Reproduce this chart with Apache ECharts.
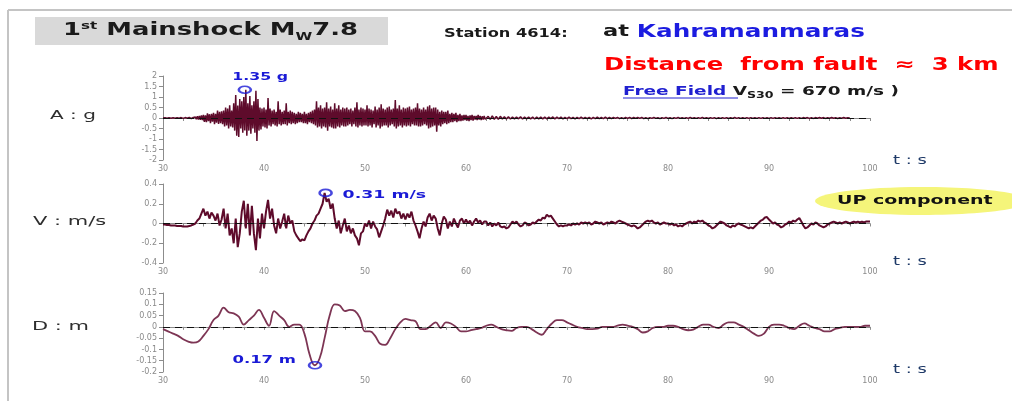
<!DOCTYPE html>
<html><head><meta charset="utf-8">
<script src="https://cdn.jsdelivr.net/npm/echarts@6/dist/echarts.min.js"></script>
<style>html,body{margin:0;padding:0;background:#fff}#c{width:1012px;height:401px}</style>
</head><body><div id="c"></div>
<script>
// time axis
const tStart = 30;
const xTicks = [30, 40, 50, 60, 70, 80, 90, 100];
const accTicks = [-2, -1.5, -1, -0.5, 0, 0.5, 1, 1.5, 2];
const velTicks = [-0.4, -0.2, 0, 0.2, 0.4];
const disTicks = [-0.2, -0.15, -0.1, -0.05, 0, 0.05, 0.1, 0.15];

// Acceleration (g): pre-event 30.0-32.8 s every 0.2 s
const accPreStart = 30.0, accPreStep = 0.2;
const accPre = [0,0.01,-0.01,0.01,-0.01, 0.01,-0.01,0.01,-0.01,0.02, -0.02,0.02,-0.01,0.03,-0.03];
// strong motion 33.0-61.9 s every 0.1 s
const accMainStart = 33.0, accMainStep = 0.1;
const accMain = [
 0.03,-0.04,0.05,-0.06,0.08,-0.07,0.1,-0.09,0.12,-0.1,
 0.15,-0.18,0.12,-0.2,0.22,-0.15,0.18,-0.25,0.2,-0.17,
 0.25,-0.3,0.2,-0.22,0.35,-0.28,0.3,-0.25,0.32,-0.3,
 0.35,-0.4,0.5,-0.35,0.45,-0.5,0.6,-0.4,0.35,-0.45,
 0.7,-0.6,1.1,-0.85,0.6,-0.9,0.9,-0.5,0.8,-0.7,
 1.0,-0.6,1.35,-0.85,0.7,-0.6,1.05,-0.75,0.6,-0.5,
 0.8,-0.7,1.3,-1.1,0.9,-0.6,0.5,-0.55,0.45,-0.4,
 0.5,-0.45,0.4,-0.5,0.95,-0.35,0.45,-0.4,0.35,-0.3,
 0.4,-0.35,0.3,-0.4,0.8,-0.3,0.4,-0.35,0.3,-0.3,
 0.35,-0.3,0.7,-0.35,0.3,-0.25,0.35,-0.3,0.3,-0.25,
 0.25,-0.3,0.2,-0.25,0.3,-0.2,0.25,-0.2,0.2,-0.25,
 0.3,-0.25,0.2,-0.3,0.25,-0.2,0.3,-0.25,0.35,-0.3,
 0.4,-0.35,0.8,-0.45,0.5,-0.4,0.6,-0.5,0.45,-0.4,
 0.5,-0.45,0.75,-0.6,0.45,-0.4,0.55,-0.45,0.4,-0.5,
 0.7,-0.5,0.45,-0.4,0.6,-0.45,0.4,-0.35,0.5,-0.4,
 0.45,-0.4,0.5,-0.35,0.4,-0.3,0.45,-0.4,0.35,-0.3,
 0.5,-0.4,0.75,-0.45,0.4,-0.35,0.5,-0.4,0.45,-0.35,
 0.4,-0.35,0.6,-0.4,0.45,-0.35,0.4,-0.45,0.35,-0.3,
 0.55,-0.45,0.4,-0.35,0.5,-0.5,0.65,-0.4,0.45,-0.35,
 0.4,-0.35,0.5,-0.45,0.55,-0.35,0.4,-0.3,0.45,-0.4,
 0.85,-0.5,0.45,-0.4,0.6,-0.35,0.4,-0.45,0.5,-0.35,
 0.45,-0.4,0.5,-0.35,0.55,-0.4,0.4,-0.3,0.45,-0.35,
 0.5,-0.35,0.7,-0.4,0.45,-0.4,0.4,-0.35,0.5,-0.3,
 0.4,-0.35,0.55,-0.5,0.6,-0.45,0.45,-0.4,0.5,-0.35,
 0.5,-0.65,0.4,-0.35,0.3,-0.4,0.35,-0.3,0.3,-0.25,
 0.3,-0.3,0.35,-0.25,0.2,-0.2,0.25,-0.2,0.2,-0.15,
 0.25,-0.2,0.15,-0.15,0.2,-0.15,0.12,-0.12,0.15,-0.1,
 0.15,-0.12,0.1,-0.15,0.12,-0.1,0.15,-0.12,0.1,-0.08,
 0.1,-0.1,0.15,-0.08,0.1,-0.1,0.08,-0.07,0.1,-0.06
];
// coda 62.0-100.0 s every 0.2 s
const accCodaStart = 62.0, accCodaStep = 0.2;
const accCoda = [
 -0.1,0.08,-0.07,0.1,-0.06,
 0.07,-0.06,0.08,-0.05,0.06, -0.05,0.06,-0.05,0.05,-0.04, 0.05,-0.04,0.06,-0.05,0.04,
 -0.04,0.05,-0.04,0.04,-0.05, 0.04,-0.04,0.05,-0.04,0.04, -0.04,0.04,-0.03,0.05,-0.04,
 0.04,-0.03,0.04,-0.04,0.03, -0.03,0.04,-0.03,0.03,-0.04, 0.03,-0.03,0.04,-0.03,0.03,
 -0.03,0.03,-0.04,0.03,-0.03, 0.04,-0.03,0.03,-0.03,0.04, -0.03,0.03,-0.03,0.03,-0.02,
 0.03,-0.03,0.02,-0.03,0.03, -0.02,0.03,-0.03,0.03,-0.02, 0.03,-0.02,0.03,-0.03,0.02,
 -0.03,0.02,-0.02,0.03,-0.02, 0.02,-0.03,0.02,-0.02,0.03, -0.02,0.02,-0.03,0.02,-0.02,
 0.03,-0.02,0.02,-0.02,0.02, -0.02,0.03,-0.02,0.02,-0.02, 0.02,-0.02,0.03,-0.02,0.02,
 -0.02,0.02,-0.02,0.02,-0.03, 0.02,-0.02,0.02,-0.02,0.02, -0.02,0.02,-0.02,0.03,-0.02,
 0.02,-0.02,0.02,-0.02,0.02, -0.02,0.02,-0.02,0.02,-0.02, 0.02,-0.02,0.02,-0.02,0.02,
 -0.02,0.02,-0.02,0.02,-0.02, 0.02,-0.02,0.02,-0.02,0.02, -0.02,0.02,-0.02,0.02,-0.02,
 0.02,-0.02,0.02,-0.01,0.02, -0.02,0.01,-0.02,0.02,-0.01, 0.02,-0.01,0.02,-0.02,0.01,
 -0.01,0.02,-0.01,0.01,-0.02, 0.01,-0.01,0.02,-0.01,0.01, 0
];

// Velocity (m/s), sampled every 0.2 s from 30 s
const velStep = 0.2;
const velValues = [
 -0.01,-0.01,-0.015,-0.015,-0.02, -0.02,-0.02,-0.025,-0.025,-0.025, -0.03,-0.03,-0.03,-0.025,-0.02,
 -0.01,0,0.03,0.05,0.1, 0.15,0.08,0.12,0.05,0.11, 0.08,0.03,0.1,-0.02,0.04,
 0.15,-0.05,0.1,-0.12,-0.05, -0.2,0.05,-0.24,-0.1,0.12, 0.23,-0.05,0.2,-0.12,0.18,
 -0.1,-0.27,0.05,-0.15,0.1, -0.05,0.12,0.24,0.05,0.15, -0.02,-0.1,0.05,-0.05,0.02,
 0.1,-0.05,0.08,0,0.03, -0.08,-0.12,-0.15,-0.18,-0.16, -0.17,-0.12,-0.08,-0.05,0,
 0.03,0.08,0.1,0.15,0.2, 0.31,0.22,0.25,0.15,0.2, 0.05,-0.05,0.03,-0.1,-0.02,
 0.05,-0.08,-0.02,-0.1,-0.05, -0.12,-0.15,-0.22,-0.1,-0.08, 0,-0.03,0.03,-0.05,0.02,
 -0.03,-0.06,-0.14,-0.08,-0.02, 0.05,0.14,0.08,0.13,0.06, 0.15,0.1,0.12,0.05,0.1,
 0.04,0.1,0.06,0.12,0.03, -0.02,-0.08,-0.15,-0.05,0.02, -0.03,0.06,0.1,0.03,0.08,
 0.05,-0.05,-0.12,0,0.07, 0.04,-0.05,0.02,-0.03,0.05, 0,-0.04,0.03,0.05,0,
 0.04,0,0.03,-0.02,0.02, 0.05,0.01,0.03,-0.01,0.02, 0.02,-0.02,0.01,-0.03,0,
 -0.02,0.01,-0.03,-0.04,-0.03, -0.05,-0.04,-0.01,0.02,0, 0.02,-0.01,-0.03,-0.02,0.01,
 0,-0.02,-0.01,0.01,0, 0.02,0.04,0.03,0.06,0.05, 0.09,0.07,0.08,0.05,0.02,
 -0.01,-0.03,-0.02,-0.03,-0.02, -0.02,-0.01,-0.02,0,-0.01, 0,-0.01,0.01,0,0.01,
 0,0.01,-0.01,0,0.02, 0.01,0,0.01,-0.01,0, 0.01,0,0.02,0.01,0,
 0.02,0.03,0.02,0.01,0, -0.01,-0.02,-0.03,-0.02,-0.03, -0.05,-0.04,-0.02,0,0.02,
 0.03,0.02,0.03,0.01,0, 0.01,-0.01,0,0.01,0, 0,-0.01,0,-0.02,-0.01,
 -0.03,-0.02,-0.03,-0.01,0, 0.01,0.02,0,0.02,0.01, 0.03,0.02,0.03,0.01,0,
 -0.02,-0.03,-0.05,-0.04,-0.02, 0,0.02,0.01,0,-0.02, -0.03,-0.04,-0.02,-0.03,-0.01,
 0,-0.01,-0.02,-0.03,-0.04, -0.05,-0.04,-0.05,-0.03,-0.01, 0.01,0.03,0.04,0.06,0.065,
 0.04,0.02,0,0.01,-0.01, -0.02,-0.04,-0.03,-0.01,0, 0.02,0.01,0.03,0.02,0.04,
 0.055,0.02,-0.02,-0.05,-0.04, -0.02,0,-0.01,0.01,0, -0.02,-0.03,-0.04,-0.03,-0.01,
 0,0.01,0.02,0.01,0, 0.01,0,0.01,0.02,0.01, 0,0.01,0.02,0.01,0.02,
 0.01,0.02,0.01,0.02,0.02, 0.02
];

// Displacement (m), sampled every 0.5 s from 30 s
const disStep = 0.5;
const disValues = [
 -0.01,-0.02, -0.03,-0.04, -0.055,-0.065, -0.07,-0.065, -0.04,-0.01,
 0.03,0.05, 0.085,0.065, 0.06,0.045, 0.01,0.03, 0.05,0.075,
 0.04,0.005, 0.07,0.05, 0.03,0, 0.01,0.01, -0.03,-0.12,
 -0.17,-0.14, -0.05,0.05, 0.1,0.095, 0.07,0.075, 0.07,0.04,
 -0.02,-0.02, -0.04,-0.075, -0.08,-0.05, -0.01,0.02, 0.035,0.03,
 0.025,-0.01, -0.01,0.005, 0.02,-0.005, 0.02,0.015, 0,-0.02,
 -0.02,-0.015, -0.01,-0.005, 0.005,0.01, 0,-0.01, -0.015,-0.018,
 -0.005,0, 0,-0.01, -0.025,-0.035, -0.01,0.015, 0.03,0.03,
 0.02,0.01, 0,-0.005, -0.01,-0.01, -0.008,0, 0,0,
 0.005,0.01, 0.005,0, -0.01,-0.025, -0.02,-0.005, 0,0,
 0.005,0.005, 0,-0.01, -0.015,-0.012, 0,0.01, 0.01,0,
 -0.005,0.01, 0.02,0.02, 0.01,0, -0.015,-0.03, -0.04,-0.03,
 0,0.01, 0.01,0.005, -0.005,-0.01, 0.005,0.015, 0.005,-0.005,
 -0.01,-0.02, -0.02,-0.01, -0.005,0, 0,0, 0,0.005, 0.005
];

// Peak annotations: time (s), value, unit
const accPeak = [38.1, 1.35, 'g'];
const velPeak = [46.1, 0.31, 'm/s'];
const disPeak = [45.05, -0.17, 'm'];

function pairs(vals, step, start) {
  const s0 = start === undefined ? tStart : start;
  return vals.map((v, i) => [+(s0 + i * step).toFixed(2), v]);
}
const accData = pairs(accPre, accPreStep, accPreStart)
  .concat(pairs(accMain, accMainStep, accMainStart))
  .concat(pairs(accCoda, accCodaStep, accCodaStart));

const chart = echarts.init(document.getElementById('c'), null, {renderer: 'canvas'});
const grids = [
  {left: 163, right: 142, top: 76, height: 84},
  {left: 163, right: 142, top: 184, height: 79},
  {left: 163, right: 142, top: 293, height: 79}
];
const yTicks = [accTicks, velTicks, disTicks];
const lbl = {color: '#8a8a8a', fontSize: 8, fontFamily: 'DejaVu Sans'};

const xAxis = grids.map((g, i) => ({
  type: 'value', gridIndex: i, min: xTicks[0], max: xTicks[xTicks.length - 1], interval: 10,
  axisLine: {lineStyle: {color: '#8c8c8c', width: 1}},
  axisTick: {show: true, length: 3, lineStyle: {color: '#8c8c8c'}},
  minorTick: {show: true, splitNumber: 5, length: 3, lineStyle: {color: '#8c8c8c'}},
  splitLine: {show: false},
  axisLabel: Object.assign({margin: 5}, lbl)
}));
const yAxis = grids.map((g, i) => {
  const t = yTicks[i];
  return {
    type: 'value', gridIndex: i, min: t[0], max: t[t.length - 1], interval: t[1] - t[0],
    axisLine: {show: true, lineStyle: {color: '#8c8c8c', width: 1}},
    axisTick: {show: true, length: 4, lineStyle: {color: '#8c8c8c'}},
    splitLine: {show: false},
    axisLabel: Object.assign({margin: 6, formatter: v => String(+v.toFixed(2))}, lbl)
  };
});

const zeroLine = {
  silent: true, symbol: 'none', label: {show: false},
  lineStyle: {color: '#111', type: [7, 5], width: 1},
  data: [{yAxis: 0}]
};

function peakSeries(idx, p) {
  return {
    type: 'scatter', xAxisIndex: idx, yAxisIndex: idx, z: 5,
    data: [[p[0], p[1]]], symbol: 'circle', symbolSize: [12, 7],
    itemStyle: {color: 'rgba(255,255,255,0)', borderColor: '#1a1ad6', borderWidth: 2}
  };
}

const series = [
  {type: 'line', xAxisIndex: 0, yAxisIndex: 0, data: accData, showSymbol: false,
   lineStyle: {color: '#5e0b2b', width: 1.5}, markLine: zeroLine, z: 3},
  {type: 'line', xAxisIndex: 1, yAxisIndex: 1, data: pairs(velValues, velStep), showSymbol: false,
   lineStyle: {color: '#5e0b2b', width: 2}, markLine: zeroLine, z: 3},
  {type: 'line', xAxisIndex: 2, yAxisIndex: 2, data: pairs(disValues, disStep), showSymbol: false, smooth: 0.4,
   lineStyle: {color: '#7d3554', width: 1.8}, markLine: zeroLine, z: 3},
  peakSeries(0, accPeak),
  peakSeries(1, velPeak),
  peakSeries(2, disPeak)
];

chart.setOption({
  animation: false,
  backgroundColor: '#ffffff',
  grid: grids,
  xAxis: xAxis,
  yAxis: yAxis,
  series: series
});

const F = 'DejaVu Sans';
// text helper: x,y = anchor (left/right edge, vertical middle), sx = horizontal stretch
function txt(x, y, sx, style, align) {
  return {type: 'text', x: x, y: y, scaleX: sx, z: 10,
    style: Object.assign({x: 0, y: 0, align: align || 'left', verticalAlign: 'middle'}, style)};
}
const pA = chart.convertToPixel({gridIndex: 0}, [accPeak[0], accPeak[1]]);
const pV = chart.convertToPixel({gridIndex: 1}, [velPeak[0], velPeak[1]]);
const pD = chart.convertToPixel({gridIndex: 2}, [disPeak[0], disPeak[1]]);
const annFont = 'bold 10.5px "DejaVu Sans"';
const blue = '#1a1ad6';

const graphic = [
  {type: 'line', shape: {x1: 8, y1: 10, x2: 1012, y2: 10}, style: {stroke: '#c4c4c4', lineWidth: 2}},
  {type: 'line', shape: {x1: 8, y1: 10, x2: 8, y2: 401}, style: {stroke: '#c4c4c4', lineWidth: 2}},
  {type: 'rect', shape: {x: 35, y: 17, width: 353, height: 28}, style: {fill: '#d9d9d9'}},
  txt(63, 31, 1.52, {
    rich: {
      b: {fontSize: 17, fontWeight: 'bold', fontFamily: F, fill: '#1a1a1a', lineHeight: 24, verticalAlign: 'middle'},
      sup: {fontSize: 10, fontWeight: 'bold', fontFamily: F, fill: '#1a1a1a', lineHeight: 24, verticalAlign: 'top', padding: [2, 0, 0, 0]},
      sub: {fontSize: 10, fontWeight: 'bold', fontFamily: F, fill: '#1a1a1a', lineHeight: 24, verticalAlign: 'bottom', padding: [0, 0, 1, 0]}
    },
    text: '{b|1}{sup|st}{b| Mainshock M}{sub|W}{b|7.8}'
  }),
  txt(444, 34, 1.41, {text: 'Station 4614:', font: 'bold 11.5px "DejaVu Sans"', fill: '#1a1a1a'}),
  txt(603, 32, 1.41, {
    rich: {
      a: {fontSize: 16, fontWeight: 'bold', fontFamily: F, fill: '#1a1a1a'},
      k: {fontSize: 17.5, fontWeight: 'bold', fontFamily: F, fill: '#1c1ce0'}
    },
    text: '{a|at }{k|Kahramanmaras}'
  }),
  txt(604, 66, 1.43, {text: 'Distance  from fault  \u2248  3 km', font: 'bold 17px "DejaVu Sans"', fill: '#ff0000'}),
  txt(623, 92, 1.48, {
    rich: {
      f: {fontSize: 12.5, fontWeight: 'bold', fontFamily: F, fill: '#2020d0', lineHeight: 16},
      v: {fontSize: 12.5, fontWeight: 'bold', fontFamily: F, fill: '#1a1a1a', lineHeight: 16},
      s: {fontSize: 8.5, fontWeight: 'bold', fontFamily: F, fill: '#1a1a1a', lineHeight: 16, verticalAlign: 'bottom'}
    },
    text: '{f|Free Field }{v|V}{s|S30}{v| = 670 m/s )}'
  }),
  {type: 'line', shape: {x1: 623, y1: 98, x2: 738, y2: 98}, style: {stroke: '#2020d0', lineWidth: 1}},
  {type: 'ellipse', shape: {cx: 922, cy: 201, rx: 107, ry: 14}, style: {fill: '#f5f57a'}},
  txt(837, 201, 1.46, {text: 'UP component', font: 'bold 13px "DejaVu Sans"', fill: '#111'}),
  txt(50, 116, 1.6, {text: 'A : g', font: '12.5px "DejaVu Sans"', fill: '#2e2e2e'}),
  txt(33, 222, 1.68, {text: 'V : m/s', font: '12.5px "DejaVu Sans"', fill: '#2e2e2e'}),
  txt(32, 327, 1.68, {text: 'D : m', font: '12.5px "DejaVu Sans"', fill: '#2e2e2e'}),
  txt(893, 161, 1.43, {text: 't : s', font: '12.5px "DejaVu Sans"', fill: '#1f3a68'}),
  txt(893, 262, 1.43, {text: 't : s', font: '12.5px "DejaVu Sans"', fill: '#1f3a68'}),
  txt(893, 370, 1.43, {text: 't : s', font: '12.5px "DejaVu Sans"', fill: '#1f3a68'}),
  txt(pA[0] - 12.5, pA[1] - 12, 1.5, {text: accPeak[1].toFixed(2) + ' ' + accPeak[2], font: annFont, fill: blue}),
  txt(pV[0] + 17, pV[1] + 2, 1.65, {text: velPeak[1].toFixed(2) + ' ' + velPeak[2], font: annFont, fill: blue}),
  txt(pD[0] - 19, pD[1] - 5, 1.57, {text: Math.abs(disPeak[1]).toFixed(2) + ' ' + disPeak[2], font: annFont, fill: blue}, 'right')
];
chart.setOption({graphic: graphic});
</script>
</body></html>
